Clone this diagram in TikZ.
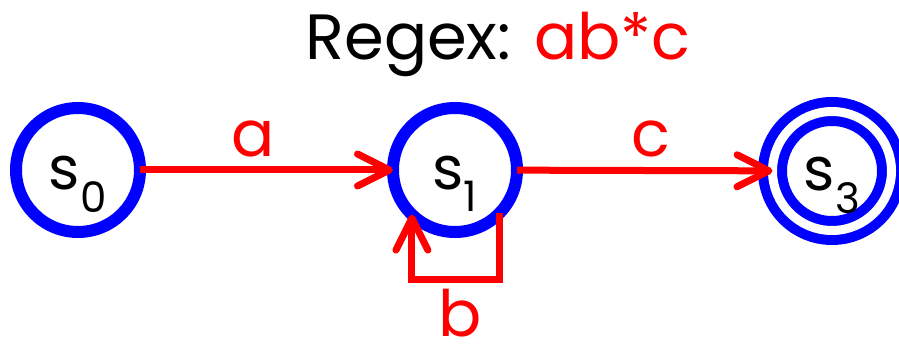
\documentclass[tikz,border=0pt]{standalone}
\usepackage{fontspec}
\setmainfont{Poppins}
\usetikzlibrary{arrows.meta, positioning}
\definecolor{StateBlue}{RGB}{0, 0, 255}
\definecolor{EdgeRed}{RGB}{255, 0, 0}
\newcommand{\stlabel}[1]{\raisebox{-20pt}[0pt][0pt]{s\textsubscript{#1}}}

\begin{document}
\begin{tikzpicture}[x=1pt, y=-1pt,
    statenode/.style={circle, draw=StateBlue, line width=12pt, minimum size=124pt, inner sep=0pt, outer sep=0pt, font=\fontsize{60pt}{66pt}\selectfont},
    acceptnode/.style={circle, draw=StateBlue, line width=10pt, double=white, double distance=9pt, minimum size=119pt, inner sep=0pt, outer sep=0pt, font=\fontsize{60pt}{66pt}\selectfont},
    trans/.style={draw=EdgeRed, line width=7pt, -{Straight Barb[length=32pt, width=32pt, round]}},
    lbl/.style={anchor=base, font=\fontsize{64pt}{70pt}\selectfont}]
    \useasboundingbox (0, 0) rectangle (899, 347);

    % Title
    \node[lbl] (title) at (498, 60) {Regex: \textcolor{EdgeRed}{ab*c}};

    % States
    \node[statenode] (s0) at (78, 170) {\stlabel{0}};
    \node[statenode] (s1) at (455, 170) {\stlabel{1}};
    \node[acceptnode] (s3) at (832, 171) {\stlabel{3}};

    % Transitions
    \draw[trans] (s0) -- (s1);
    \draw[trans] (s1) -- (s3);
    \draw[trans] (s1.-44) -- ++(0, 66) -| (s1.-134);

    % Symbols
    \node[lbl, text=EdgeRed] (syma) at (253, 157) {a};
    \node[lbl, text=EdgeRed] (symc) at (651, 157) {c};
    \node[lbl, text=EdgeRed, inner sep=0pt] (symb) at (460, 336) {b};
\end{tikzpicture}
\end{document}
